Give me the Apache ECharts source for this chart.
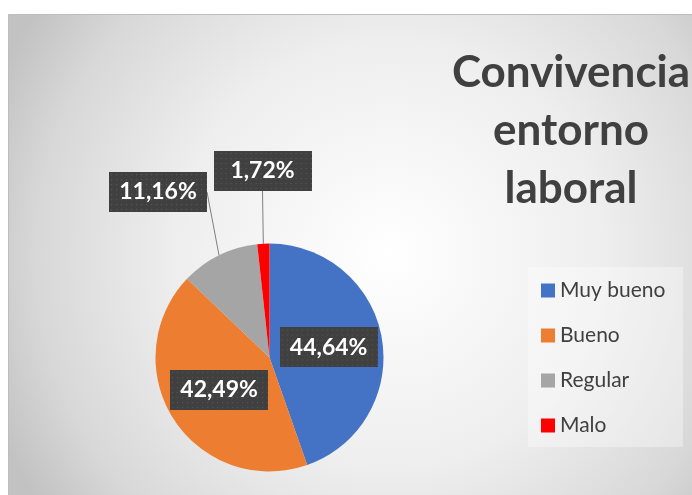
<!DOCTYPE html>
<html>
<head>
<meta charset="utf-8">
<script src="https://cdn.jsdelivr.net/npm/echarts@6/dist/echarts.min.js"></script>
<style>
html,body{margin:0;padding:0;background:#fff;}
#c{width:692px;height:495px;}
</style>
</head>
<body>
<div id="c"></div>
<script>
const categories = ['Muy bueno', 'Bueno', 'Regular', 'Malo'];
const values = [44.64, 42.49, 11.16, 1.72];
const colors = ['#4472C4', '#ED7D31', '#A5A5A5', '#FF0000'];
const titleLines = ['Convivencia', 'entorno', 'laboral'];

function makePattern(w, h) {
  const cv = document.createElement('canvas');
  cv.width = w; cv.height = h;
  const ctx = cv.getContext('2d');
  ctx.fillStyle = '#404040';
  ctx.fillRect(0, 0, w, h);
  ctx.fillStyle = '#565656';
  for (let y = 2; y < h; y += 5) {
    for (let x = 2; x < w; x += 5) {
      ctx.fillRect(x, y, 1.2, 1.2);
    }
  }
  return cv;
}
const pattern = makePattern(98, 40);

const chart = echarts.init(document.getElementById('c'), null, {renderer: 'canvas'});

const labelBase = {
  color: '#fff',
  fontFamily: 'Lato',
  fontWeight: 'bold',
  fontSize: 23,
  width: 80,
  height: 24,
  lineHeight: 24,
  align: 'center',
  verticalAlign: 'middle',
  padding: [8, 9],
  backgroundColor: {image: pattern},
  shadowColor: 'rgba(0,0,0,0.45)',
  shadowBlur: 5,
  shadowOffsetX: 2,
  shadowOffsetY: 3,
  formatter: p => p.value.toFixed(2).replace('.', ',') + '%'
};

const data = categories.map((n, i) => {
  const d = {name: n, value: values[i], itemStyle: {color: colors[i]}};
  if (i >= 2) {
    d.label = {position: 'outside'};
    d.labelLine = {show: true};
  } else {
    d.label = {position: 'inside'};
    d.labelLine = {show: false};
  }
  return d;
});

const outsidePos = {2: [158, 192], 3: [262.5, 171]};

chart.setOption({
  animation: false,
  graphic: [
    {
      type: 'rect', z: -10, silent: true,
      shape: {x: 8.5, y: 14.5, width: 720, height: 520},
      style: {
        fill: {
          type: 'radial', x: 390, y: 255, r: 430, global: true,
          colorStops: [
            {offset: 0, color: '#ffffff'},
            {offset: 0.5, color: '#eeeeee'},
            {offset: 0.82, color: '#d8d8d8'},
            {offset: 1, color: '#c2c2c2'}
          ]
        },
        stroke: '#bdbdbd', lineWidth: 1
      }
    },
    {
      type: 'rect', z: -5, silent: true,
      shape: {x: 528, y: 267, width: 155, height: 180},
      style: {fill: 'rgba(255,255,255,0.35)'}
    },
    {
      type: 'text', silent: true,
      style: {
        text: titleLines.join('\n'),
        x: 571, y: 131,
        align: 'center', verticalAlign: 'middle',
        fontFamily: 'Lato', fontWeight: 'bold', fontSize: 44, lineHeight: 58,
        fill: '#404040'
      }
    }
  ],
  legend: {
    orient: 'vertical',
    left: 541, top: 280,
    padding: 0,
    itemWidth: 14, itemHeight: 14,
    itemGap: 24,
    icon: 'rect',
    data: categories,
    textStyle: {fontFamily: 'Lato', fontSize: 21, lineHeight: 20, color: '#404040'}
  },
  series: [{
    type: 'pie',
    center: [269.5, 357.5],
    radius: 114,
    startAngle: 90,
    clockwise: true,
    avoidLabelOverlap: false,
    label: labelBase,
    labelLine: {lineStyle: {color: '#7f7f7f', width: 1}, length: 10, length2: 0, smooth: false},
    labelLayout: function (params) {
      const p = outsidePos[params.dataIndex];
      if (!p) return {};
      return {x: p[0], y: p[1], align: 'center', verticalAlign: 'middle'};
    },
    emphasis: {disabled: true},
    data: data
  }]
});
</script>
</body>
</html>
